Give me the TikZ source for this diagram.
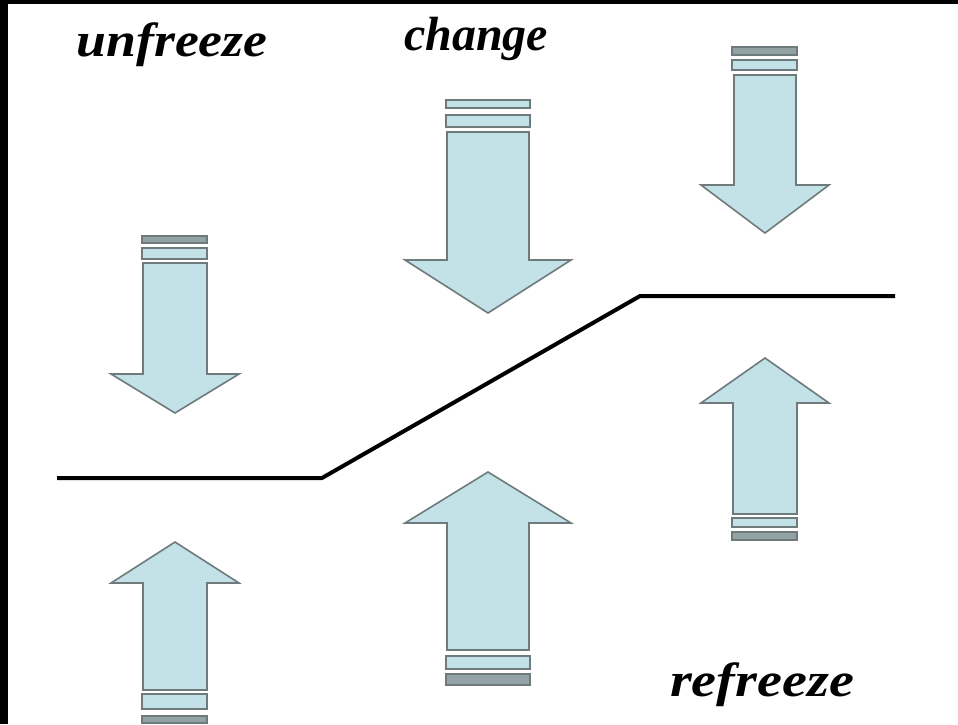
\documentclass[tikz,border=0pt]{standalone}
\usepackage{fontspec}
\setmainfont{Liberation Serif}
\begin{document}
\definecolor{icefill}{HTML}{C2E2E7}
\definecolor{iceedge}{HTML}{6E7A7C}
\definecolor{icedark}{HTML}{93A3A5}
\tikzset{
  blockarrow/.style={fill=icefill, draw=iceedge, line width=1.6pt, line join=miter},
  stripe/.style={fill=icefill, draw=iceedge, line width=1.4pt},
  darkstripe/.style={fill=icedark, draw=iceedge, line width=1.2pt},
  phase/.style={font=\fontsize{48}{52}\selectfont\bfseries\itshape, inner sep=0pt},
  level/.style={line width=4pt, black, line join=round}
}
% #1 centre x, #2 half shaft width, #3 half head width,
% #4 shaft end, #5 head base, #6 tip
\newcommand\forcearrow[6]{%
  \path[blockarrow] (#1-#2,#4) -- (#1+#2,#4) -- (#1+#2,#5) -- (#1+#3,#5)
    -- (#1,#6) -- (#1-#3,#5) -- (#1-#2,#5) -- cycle;}
\begin{tikzpicture}[x=1pt, y=-1pt]
  \useasboundingbox (0,0) rectangle (958,724);
  \fill[white] (0,0) rectangle (958,724);
  % dark frame on the left and top edges
  \fill[black] (0,0) rectangle (8,724);
  \fill[black] (0,0) rectangle (958,4);

  % titles
  \node[phase, xscale=1.12] (unfreeze) at (172,45) {unfreeze};
  \node[phase] (change) at (476,39) {change};
  \node[phase, xscale=1.17] (refreeze) at (762,685) {refreeze};

  % unfreeze: forces from above and below
  \path[darkstripe] (142,236) rectangle (207,243);
  \path[stripe] (142,248) rectangle (207,259);
  \forcearrow{175}{32}{64}{263}{374}{413}
  \forcearrow{175}{32}{64}{690}{583}{542}
  \path[stripe] (142,694) rectangle (207,709);
  \path[darkstripe] (142,716) rectangle (207,723);

  % change: stronger forces
  \path[stripe] (446,100) rectangle (530,108);
  \path[stripe] (446,115) rectangle (530,127);
  \forcearrow{488}{41}{83}{132}{260}{313}
  \forcearrow{488}{41}{83}{650}{523}{472}
  \path[stripe] (446,656) rectangle (530,669);
  \path[darkstripe] (446,674) rectangle (530,685);

  % refreeze: forces from above and below
  \path[darkstripe] (732,47) rectangle (797,55);
  \path[stripe] (732,60) rectangle (797,70);
  \forcearrow{765}{31}{64}{75}{185}{233}
  \forcearrow{765}{32}{64}{514}{403}{358}
  \path[stripe] (732,518) rectangle (797,527);
  \path[darkstripe] (732,532) rectangle (797,540);

  % the level before and after the change
  \coordinate (startlvl) at (57,478);
  \coordinate (bendlow) at (322,478);
  \coordinate (bendhigh) at (640,296);
  \coordinate (endlvl) at (895,296);
  \draw[level] (startlvl) -- (bendlow) -- (bendhigh) -- (endlvl);
\end{tikzpicture}
\end{document}
